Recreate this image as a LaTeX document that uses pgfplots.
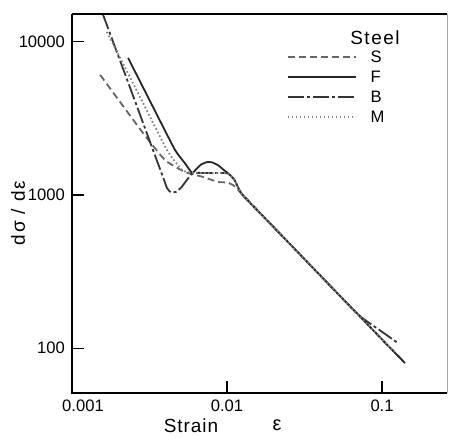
\documentclass[border=0pt]{standalone}
\usepackage{fontspec}
\setmainfont{Liberation Sans}
\usepackage{pgfplots}
\pgfplotsset{compat=1.18}

\begin{document}
\begin{tikzpicture}[font=\fontsize{8.3}{10}\selectfont]
\begin{axis}[
  name=ax,
  scale only axis, width=187.5pt, height=189.5pt,
  xmode=log, ymode=log,
  xmin=0.001, xmax=0.2624, ymin=51, ymax=15200,
  axis line style={draw=none},
  xminorticks=false, yminorticks=false,
  xtick pos=bottom, ytick pos=left,
  tick align=inside, major tick length=6pt,
  tick style={black, line width=0.6pt},
  xtick={0.01,0.1}, xticklabels={0.01,0.1},
  extra x ticks={0.001}, extra x tick labels={0.001},
  extra x tick style={major tick length=0pt, xticklabel style={xshift=5.5pt}},
  ytick={100,1000,10000}, yticklabels={100,1000,10000},
  legend image code/.code={\draw[#1] (0pt,0pt) -- (34pt,0pt);},
  legend style={at={(axis description cs:0.573,0.9077)}, anchor=north west,
    draw=none, fill=none, inner sep=0pt, outer sep=0pt,
    nodes={inner sep=1pt, text height=6pt, text depth=0pt},
    row sep=2pt,
    /tikz/every odd column/.append style={column sep=6pt}},
  legend cell align=left,
  every axis plot/.append style={line width=0.9pt},
]
% S
\addplot[black!60, dash pattern=on 3.5pt off 2pt, smooth, tension=0.3] coordinates {
  (0.00152,6085) (0.00287,2542) (0.00398,1693) (0.00536,1413) (0.0070,1312)
  (0.00875,1216) (0.01093,1162) (0.02,617) (0.04,298) (0.07,166) (0.1,114) (0.13,87)
};
\addlegendentry{S}
% F
\addplot[black!85, smooth, tension=0.3] coordinates {
  (0.0023,7860) (0.00343,3545) (0.00462,1968) (0.00536,1610) (0.00595,1393)
  (0.0063,1470) (0.0068,1580) (0.0074,1640) (0.0080,1635) (0.0088,1560)
  (0.0095,1460) (0.0101,1393) (0.0112,1250) (0.0125,1010)
  (0.02,617) (0.04,298) (0.07,166) (0.1,114) (0.1406,80)
};
\addlegendentry{F}
% B
\addplot[black!80, dash pattern=on 8pt off 1.5pt on 1.5pt off 1.5pt, smooth, tension=0.3] coordinates {
  (0.00158,15200) (0.0025,4335) (0.00333,1968) (0.0039,1279) (0.0041,1111)
  (0.00435,1040) (0.0047,1050) (0.0051,1130) (0.0055,1250) (0.0059,1370)
  (0.0063,1395) (0.008,1390) (0.0101,1385) (0.0112,1250) (0.0125,1010)
  (0.02,617) (0.04,298) (0.07,166) (0.1,128) (0.125,109)
};
\addlegendentry{B}
% M
\addplot[black!50, dash pattern=on 0.8pt off 1.2pt, smooth, tension=0.3] coordinates {
  (0.00168,11600) (0.0025,5267) (0.0041,1968) (0.00513,1456) (0.0058,1400)
  (0.008,1390) (0.0101,1390) (0.0112,1250) (0.0125,1010)
  (0.02,617) (0.04,298) (0.07,166) (0.1,114) (0.12,94)
};
\addlegendentry{M}
\end{axis}
\draw[line width=1.2pt] (ax.north west) -- (ax.south west) -- (ax.south east);
\draw[line width=1pt] (ax.north west) -- (ax.north east);
\draw[black!35, line width=0.4pt] (ax.south east) -- (ax.north east);
\node[rotate=90, font=\fontsize{9.5}{11}\selectfont\addfontfeature{LetterSpace=10}]
  at ([shift={(-27pt,90pt)}]ax.south west) {dσ / dε};
\node[font=\fontsize{9.5}{11}\selectfont\addfontfeature{LetterSpace=5}]
  at ([shift={(59.5pt,-16.5pt)}]ax.south west) {Strain};
\node[font=\fontsize{10}{11}\selectfont] at ([shift={(102.5pt,-16pt)}]ax.south west) {ε};
\node[font=\fontsize{9.5}{11}\selectfont\addfontfeature{LetterSpace=8}]
  at ([shift={(151.5pt,-12pt)}]ax.north west) {Steel};
\pgfresetboundingbox
\path ([shift={(-36pt,-22pt)}]ax.south west) rectangle ([shift={(1.5pt,7pt)}]ax.north east);
\end{tikzpicture}
\end{document}
